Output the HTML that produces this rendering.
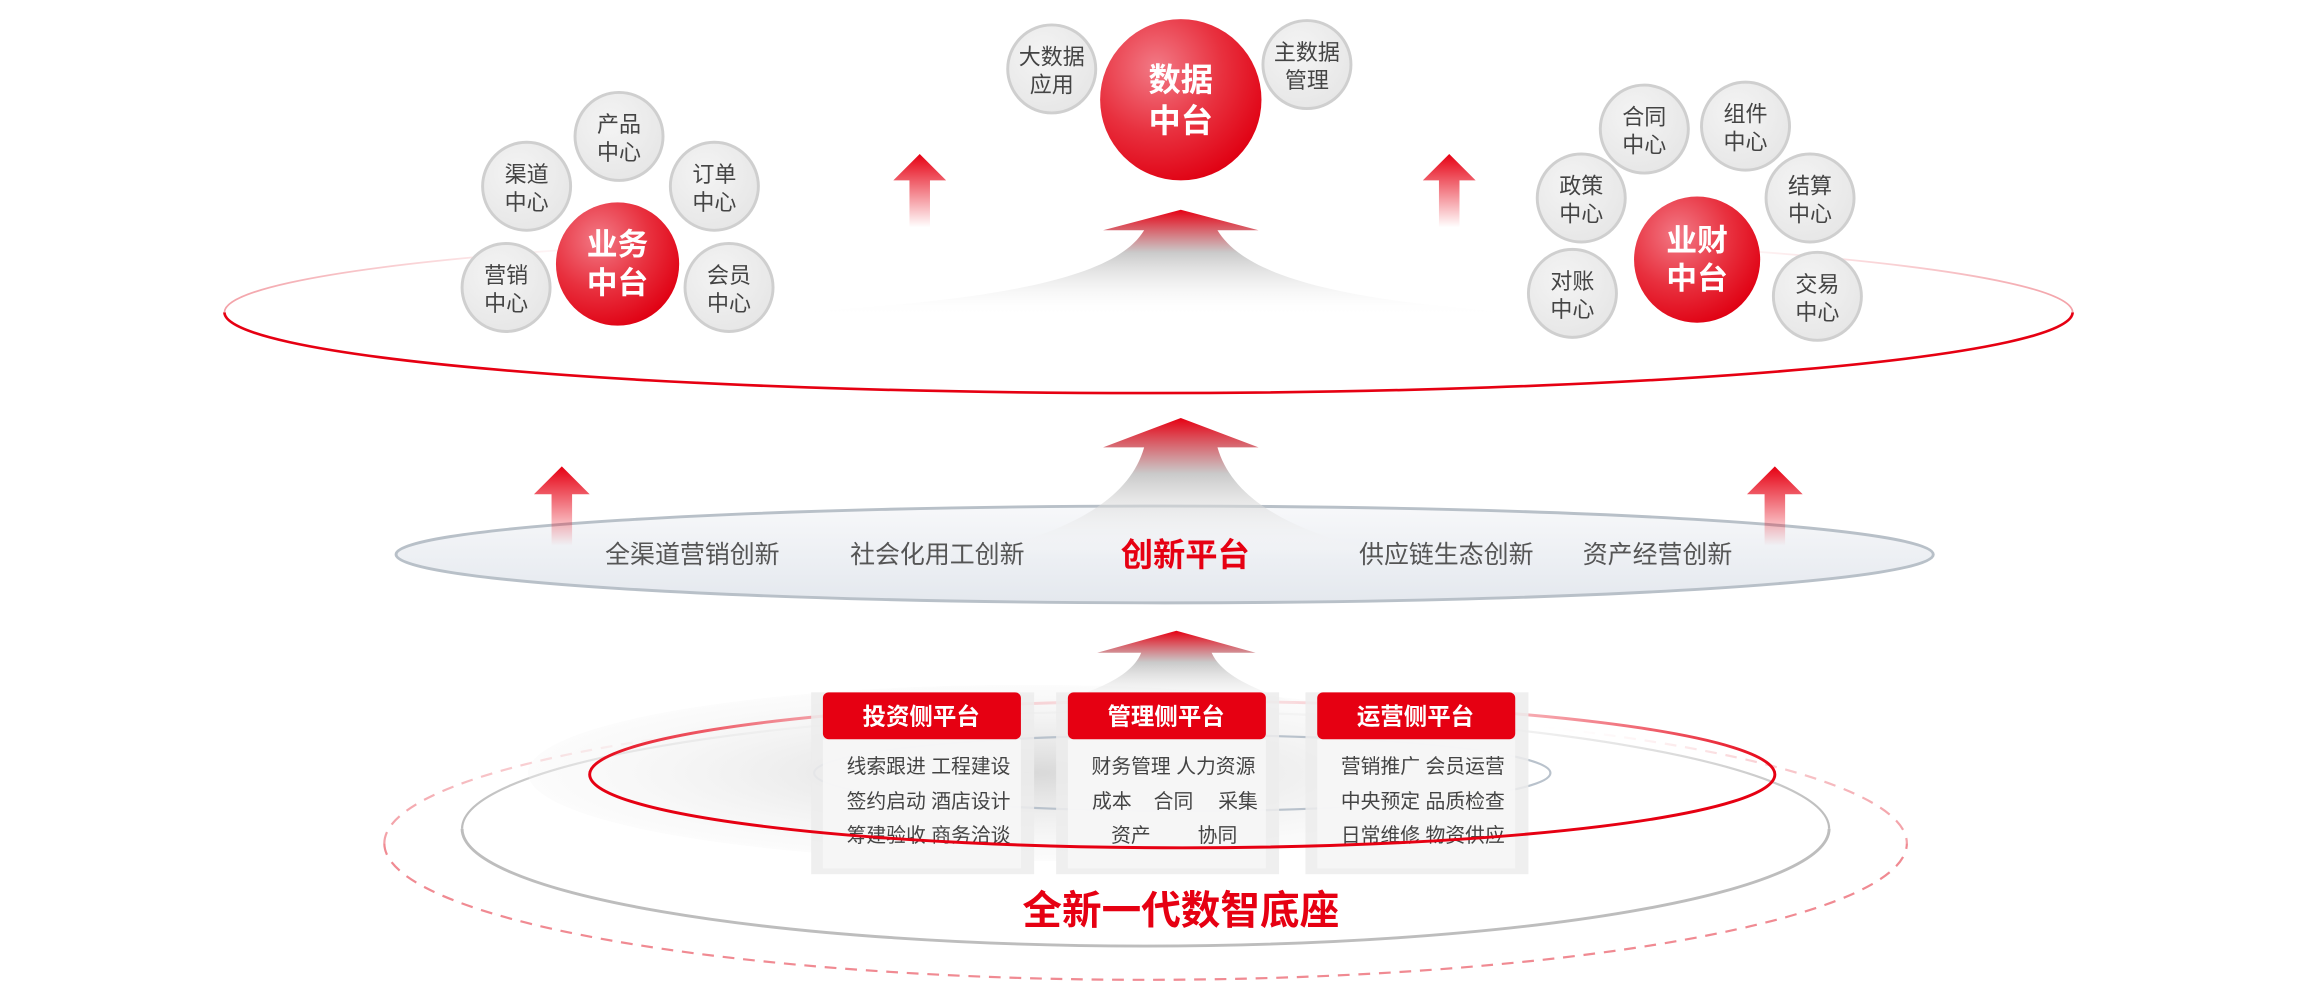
<!DOCTYPE html>
<html><head><meta charset="utf-8"><style>
html,body{margin:0;padding:0;background:#fff;}
svg{display:block;}
text{font-family:"Liberation Sans","Noto Sans CJK SC",sans-serif;}
</style></head><body>
<svg width="2300" height="998" viewBox="0 0 1568 680.4" xmlns="http://www.w3.org/2000/svg">
<defs>
<radialGradient id="rc" cx="35%" cy="30%" r="75%"><stop offset="0" stop-color="#f27a86"/><stop offset="0.55" stop-color="#e8303e"/><stop offset="1" stop-color="#e00012"/></radialGradient>
<radialGradient id="gc" cx="40%" cy="35%" r="70%"><stop offset="0" stop-color="#f4f4f4"/><stop offset="1" stop-color="#e6e6e6"/></radialGradient>
<linearGradient id="bell" x1="0" y1="0" x2="0" y2="1"><stop offset="0" stop-color="#e60012"/><stop offset="0.4" stop-color="#c4c4c4" stop-opacity="0.9"/><stop offset="1" stop-color="#ffffff" stop-opacity="0"/></linearGradient>
<linearGradient id="sa" x1="0" y1="0" x2="0" y2="1"><stop offset="0" stop-color="#e60012"/><stop offset="1" stop-color="#e60012" stop-opacity="0"/></linearGradient>
<linearGradient id="mid" x1="0" y1="0" x2="0" y2="1"><stop offset="0" stop-color="#f7f8fa"/><stop offset="1" stop-color="#e4e8ee"/></linearGradient>
<linearGradient id="fadeTop" x1="0" y1="0" x2="1" y2="0"><stop offset="0" stop-color="#f08a92" stop-opacity="0.8"/><stop offset="0.12" stop-color="#f08a92" stop-opacity="0.3"/><stop offset="0.25" stop-color="#fff" stop-opacity="0"/><stop offset="0.75" stop-color="#fff" stop-opacity="0"/><stop offset="0.88" stop-color="#f08a92" stop-opacity="0.3"/><stop offset="1" stop-color="#f08a92" stop-opacity="0.8"/></linearGradient>
<linearGradient id="fadeGray" x1="0" y1="0" x2="1" y2="0"><stop offset="0" stop-color="#bdbdbd"/><stop offset="0.25" stop-color="#ddd" stop-opacity="0.3"/><stop offset="0.75" stop-color="#ddd" stop-opacity="0.3"/><stop offset="1" stop-color="#bdbdbd"/></linearGradient>
<linearGradient id="fadeRed" x1="0" y1="0" x2="1" y2="0"><stop offset="0" stop-color="#e60012"/><stop offset="0.3" stop-color="#f5a0a8" stop-opacity="0.4"/><stop offset="0.7" stop-color="#f5a0a8" stop-opacity="0.4"/><stop offset="1" stop-color="#e60012"/></linearGradient>
<radialGradient id="disc" cx="50%" cy="50%" r="50%"><stop offset="0" stop-color="#d8d8d8"/><stop offset="1" stop-color="#f4f4f4" stop-opacity="0.3"/></radialGradient>
</defs>

<!-- bottom base -->
<path d="M262 575 A519 93 0 0 0 1300 575" fill="none" stroke="#f08a92" stroke-width="1.5" stroke-dasharray="8 6"/>
<path d="M262 575 A519 93 0 0 1 1300 575" fill="none" stroke="url(#fadeTop)" stroke-width="1.5" stroke-dasharray="8 6"/>
<path d="M315 565 A466 80 0 0 0 1247 565" fill="none" stroke="#bdbdbd" stroke-width="2"/>
<path d="M315 565 A466 80 0 0 1 1247 565" fill="none" stroke="url(#fadeGray)" stroke-width="1.5"/>
<ellipse cx="700" cy="527" rx="340" ry="60" fill="url(#disc)"/>
<path d="M402 528 A404 50 0 0 1 1210 528" fill="none" stroke="url(#fadeRed)" stroke-width="2"/>
<ellipse cx="806" cy="527" rx="251" ry="26" fill="none" stroke="#b9c2cc" stroke-width="1.5"/>

<!-- arrow 3 -->
<path d="M748 445 L802 430 L856 445 L826 445 C835 465 870 475 900 484 L700 484 C735 475 770 465 778 445 Z" fill="url(#bell)"/>

<!-- columns -->
<g>
<rect x="553" y="472" width="152" height="124" fill="#ececec" opacity="0.85"/>
<rect x="720" y="472" width="152" height="124" fill="#ececec" opacity="0.85"/>
<rect x="890" y="472" width="152" height="124" fill="#ececec" opacity="0.85"/>
<rect x="561" y="504" width="135" height="88" fill="#f6f6f6" opacity="0.92"/>
<rect x="728" y="504" width="135" height="88" fill="#f6f6f6" opacity="0.92"/>
<rect x="898" y="504" width="135" height="88" fill="#f6f6f6" opacity="0.92"/>
<rect x="561" y="472" width="135" height="32" rx="4" fill="#e60012"/>
<rect x="728" y="472" width="135" height="32" rx="4" fill="#e60012"/>
<rect x="898" y="472" width="135" height="32" rx="4" fill="#e60012"/>
<g fill="#fff" font-size="16" font-weight="bold" text-anchor="middle">
<text x="628" y="494">投资侧平台</text><text x="795" y="494">管理侧平台</text><text x="965" y="494">运营侧平台</text>
</g>
<g fill="#444" font-size="13.5" text-anchor="middle">
<text x="633" y="527">线索跟进 工程建设</text>
<text x="633" y="551">签约启动 酒店设计</text>
<text x="633" y="574">筹建验收 商务洽谈</text>
<text x="800" y="527">财务管理 人力资源</text>
<text x="758" y="551">成本</text><text x="800" y="551">合同</text><text x="844" y="551">采集</text>
<text x="771" y="574">资产</text><text x="830" y="574">协同</text>
<text x="970" y="527">营销推广 会员运营</text>
<text x="970" y="551">中央预定 品质检查</text>
<text x="970" y="574">日常维修 物资供应</text>
</g>
</g>
<path d="M402 528 A404 50 0 0 0 1210 528" fill="none" stroke="#e60012" stroke-width="2"/>
<text x="805" y="630" font-size="27" font-weight="bold" fill="#e60012" text-anchor="middle">全新一代数智底座</text>

<!-- middle platform -->
<ellipse cx="794" cy="378" rx="524" ry="33" fill="url(#mid)" stroke="#b8c0c8" stroke-width="2"/>
<path d="M752 305 L805 285 L858 305 L830 305 C840 340 880 365 960 380 L650 380 C730 365 770 340 780 305 Z" fill="url(#bell)"/>
<path d="M364 337 L383 318 L402 337 L390 337 L390 372 L376 372 L376 337 Z" fill="url(#sa)"/>
<path d="M1191 337 L1210 318 L1229 337 L1217 337 L1217 372 L1203 372 L1203 337 Z" fill="url(#sa)"/>
<g fill="#555" font-size="17" text-anchor="middle">
<text x="472" y="384">全渠道营销创新</text>
<text x="639" y="384">社会化用工创新</text>
<text x="986" y="384">供应链生态创新</text>
<text x="1130" y="384">资产经营创新</text>
</g>
<text x="808" y="386" font-size="22" font-weight="bold" fill="#e60012" text-anchor="middle">创新平台</text>

<!-- top platform -->
<path d="M153 213 A630 55 0 0 0 1413 213" fill="none" stroke="#e60012" stroke-width="1.8"/>
<path d="M153 213 A630 55 0 0 1 1413 213" fill="none" stroke="url(#fadeTop)" stroke-width="1.2"/>
<path d="M752 157 L805 143 L858 157 L830 157 C850 190 920 208 1080 216 L480 216 C680 208 760 190 780 157 Z" fill="url(#bell)"/>
<path d="M609 123 L627 105 L645 123 L634 123 L634 155 L620 155 L620 123 Z" fill="url(#sa)"/>
<path d="M970 123 L988 105 L1006 123 L995 123 L995 155 L981 155 L981 123 Z" fill="url(#sa)"/>

<!-- data center -->
<g font-size="15" fill="#444" text-anchor="middle">
<circle cx="717" cy="47" r="30" fill="url(#gc)" stroke="#cfcfcf" stroke-width="2"/>
<text x="717" y="44">大数据</text><text x="717" y="63">应用</text>
<circle cx="891" cy="44" r="30" fill="url(#gc)" stroke="#cfcfcf" stroke-width="2"/>
<text x="891" y="41">主数据</text><text x="891" y="60">管理</text>
</g>
<circle cx="805" cy="68" r="55" fill="url(#rc)"/>
<g fill="#fff" font-size="22" font-weight="bold" text-anchor="middle"><text x="805" y="62">数据</text><text x="805" y="90">中台</text></g>

<!-- business -->
<g font-size="15" fill="#444" text-anchor="middle">
<circle cx="422" cy="93" r="30" fill="url(#gc)" stroke="#cfcfcf" stroke-width="2"/><text x="422" y="90">产品</text><text x="422" y="109">中心</text>
<circle cx="359" cy="127" r="30" fill="url(#gc)" stroke="#cfcfcf" stroke-width="2"/><text x="359" y="124">渠道</text><text x="359" y="143">中心</text>
<circle cx="487" cy="127" r="30" fill="url(#gc)" stroke="#cfcfcf" stroke-width="2"/><text x="487" y="124">订单</text><text x="487" y="143">中心</text>
<circle cx="345" cy="196" r="30" fill="url(#gc)" stroke="#cfcfcf" stroke-width="2"/><text x="345" y="193">营销</text><text x="345" y="212">中心</text>
<circle cx="497" cy="196" r="30" fill="url(#gc)" stroke="#cfcfcf" stroke-width="2"/><text x="497" y="193">会员</text><text x="497" y="212">中心</text>
</g>
<circle cx="421" cy="180" r="42" fill="url(#rc)"/>
<g fill="#fff" font-size="21" font-weight="bold" text-anchor="middle"><text x="421" y="174">业务</text><text x="421" y="200">中台</text></g>

<!-- finance -->
<g font-size="15" fill="#444" text-anchor="middle">
<circle cx="1121" cy="88" r="30" fill="url(#gc)" stroke="#cfcfcf" stroke-width="2"/><text x="1121" y="85">合同</text><text x="1121" y="104">中心</text>
<circle cx="1190" cy="86" r="30" fill="url(#gc)" stroke="#cfcfcf" stroke-width="2"/><text x="1190" y="83">组件</text><text x="1190" y="102">中心</text>
<circle cx="1078" cy="135" r="30" fill="url(#gc)" stroke="#cfcfcf" stroke-width="2"/><text x="1078" y="132">政策</text><text x="1078" y="151">中心</text>
<circle cx="1234" cy="135" r="30" fill="url(#gc)" stroke="#cfcfcf" stroke-width="2"/><text x="1234" y="132">结算</text><text x="1234" y="151">中心</text>
<circle cx="1072" cy="200" r="30" fill="url(#gc)" stroke="#cfcfcf" stroke-width="2"/><text x="1072" y="197">对账</text><text x="1072" y="216">中心</text>
<circle cx="1239" cy="202" r="30" fill="url(#gc)" stroke="#cfcfcf" stroke-width="2"/><text x="1239" y="199">交易</text><text x="1239" y="218">中心</text>
</g>
<circle cx="1157" cy="177" r="43" fill="url(#rc)"/>
<g fill="#fff" font-size="21" font-weight="bold" text-anchor="middle"><text x="1157" y="171">业财</text><text x="1157" y="197">中台</text></g>
</svg>
</body></html>
